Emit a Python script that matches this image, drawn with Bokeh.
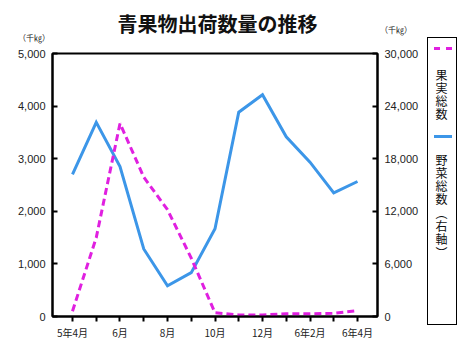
from bokeh.plotting import figure
from bokeh.models import Range1d, LinearAxis, FixedTicker, NumeralTickFormatter, Div
from bokeh.layouts import row, column
from bokeh.embed import file_html
from bokeh.resources import INLINE

# ---- data ----
months = ["5年4月", "5月", "6月", "7月", "8月", "9月", "10月", "11月", "12月",
          "6年1月", "2月", "3月", "6年4月"]
tick_labels = {0: "5年4月", 2: "6月", 4: "8月", 6: "10月", 8: "12月", 10: "6年2月", 12: "6年4月"}
fruit = [100, 1500, 3670, 2650, 2030, 1110, 70, 30, 30, 50, 50, 60, 110]
vegetables = [16200, 22150, 17100, 7700, 3500, 5000, 10000, 23300, 25300, 20500, 17600, 14100, 15400]
left_ticks = [0, 1000, 2000, 3000, 4000, 5000]
right_ticks = [0, 6000, 12000, 18000, 24000, 30000]
title = "青果物出荷数量の推移"
unit = "（千㎏）"
legend_fruit = "果実総数"
legend_veg = "野菜総数（右軸）"

BLUE = "#3C96E8"
PINK = "#E020E0"
JP = "Noto Sans CJK JP"

xs = list(range(len(months)))

# ---- geometry (layout px) ----
HEAD_H = 46          # header strip above the plot
PW, PH = 425, 304    # plot canvas
FL, FR = 52, 377     # frame left / right
FT, FB = 7, 270      # frame top / bottom inside plot canvas
LEG_W = 36
xr = (-0.842, 12.842)

p = figure(width=PW, height=PH, output_backend="svg", toolbar_location=None,
           x_range=Range1d(*xr), y_range=Range1d(0, 5000),
           min_border_left=FL, min_border_right=PW - FR,
           min_border_top=FT, min_border_bottom=PH - FB)
p.extra_y_ranges = {"right": Range1d(0, 30000)}
p.xgrid.visible = False
p.ygrid.visible = False
p.outline_line_color = "black"
p.outline_line_width = 2
p.background_fill_color = "white"
p.border_fill_color = "white"

# x axis
xa = p.xaxis[0]
xa.ticker = FixedTicker(ticks=xs)
xa.major_label_overrides = {i: tick_labels.get(i, "") for i in xs}
xa.major_tick_in = 0
xa.major_tick_out = 5
xa.minor_tick_line_color = None
xa.axis_line_width = 2
xa.major_tick_line_width = 2
xa.major_label_text_font = JP
xa.major_label_text_font_size = "10px"
xa.major_label_text_color = "#222222"
xa.major_label_standoff = 3

# left axis
ya = p.yaxis[0]
ya.ticker = FixedTicker(ticks=left_ticks)
ya.formatter = NumeralTickFormatter(format="0,0")
ya.major_tick_in = 5
ya.major_tick_out = 0
ya.minor_tick_line_color = None
ya.axis_line_width = 2
ya.major_tick_line_width = 2
ya.major_label_text_font = "Liberation Sans"
ya.major_label_text_font_size = "11px"
ya.major_label_text_color = "#222222"
ya.major_label_standoff = 7

# right axis
ra = LinearAxis(y_range_name="right", ticker=FixedTicker(ticks=right_ticks),
                formatter=NumeralTickFormatter(format="0,0"))
ra.major_tick_in = 5
ra.major_tick_out = 0
ra.minor_tick_line_color = None
ra.axis_line_width = 2
ra.major_tick_line_width = 2
ra.major_label_text_font = "Liberation Sans"
ra.major_label_text_font_size = "11px"
ra.major_label_text_color = "#222222"
ra.major_label_standoff = 7
p.add_layout(ra, "right")

# series
p.line(xs, vegetables, y_range_name="right", line_color=BLUE, line_width=3, line_join="miter")
p.line(xs, fruit, line_color=PINK, line_width=3, line_dash="7 4")

# ---- header: title and units ----
font = f"font-family:'{JP}';color:#111;"
head_html = (
    f'<div style="position:relative;width:{PW}px;height:{HEAD_H}px;{font}">'
    f'<div style="position:absolute;left:17px;width:401px;top:10px;text-align:center;'
    f'font-size:20px;font-weight:bold;line-height:28px;white-space:nowrap;">{title}</div>'
    f'<div style="position:absolute;left:14px;width:40px;top:33px;text-align:center;'
    f'font-size:8px;line-height:10px;white-space:nowrap;color:#222;">{unit}</div>'
    f'<div style="position:absolute;left:376px;width:40px;top:25px;text-align:center;'
    f'font-size:8px;line-height:10px;white-space:nowrap;color:#222;">{unit}</div>'
    '</div>'
)
header = Div(text=head_html, width=PW, height=HEAD_H, margin=0)

# ---- legend box (vertical Japanese text) ----
vt = ("position:absolute;left:10px;width:12px;writing-mode:vertical-rl;"
      "font-size:12px;line-height:12px;letter-spacing:1.3px;white-space:nowrap;")
leg_html = (
    f'<div style="position:relative;width:{LEG_W}px;height:{HEAD_H + PH}px;{font}">'
    '<div style="position:absolute;left:2px;top:37px;width:30px;height:288px;'
    'border:1px solid #000;"></div>'
    f'<div style="position:absolute;left:9px;top:47px;width:6px;height:3px;background:{PINK};"></div>'
    f'<div style="position:absolute;left:21px;top:47px;width:6px;height:3px;background:{PINK};"></div>'
    f'<div style="position:absolute;left:9px;top:135px;width:18px;height:3px;background:{BLUE};"></div>'
    f'<div style="{vt}top:69px;">{legend_fruit}</div>'
    f'<div style="{vt}top:154px;">{legend_veg}</div>'
    '</div>'
)
legend = Div(text=leg_html, width=LEG_W, height=HEAD_H + PH, margin=0)

layout = row(column(header, p, spacing=0), legend, spacing=0)
open("out.html", "w").write(file_html(layout, INLINE))
